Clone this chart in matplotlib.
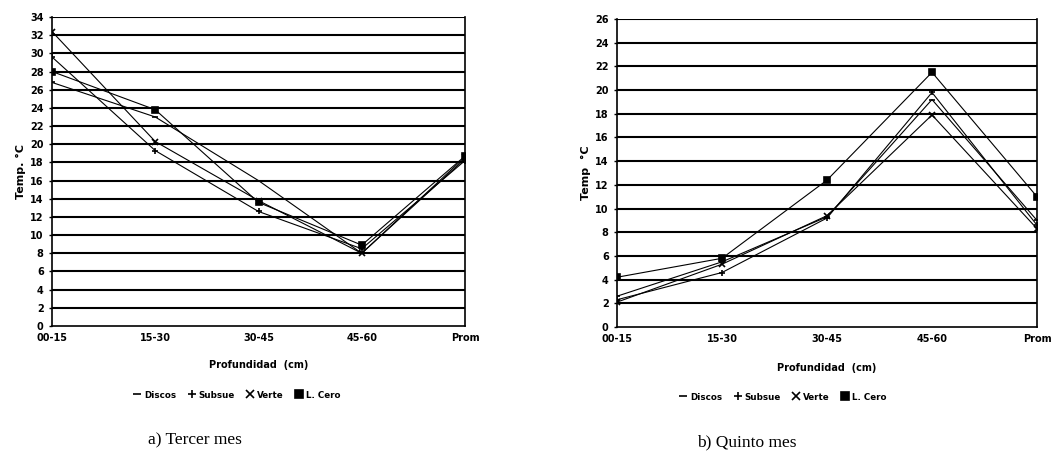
import matplotlib
matplotlib.use("Agg")
import matplotlib.pyplot as plt
import numpy as np

# Depth classes shared by both panels
depths = ["00-15", "15-30", "30-45", "45-60", "Prom"]

# Third month soil temperature (°C)
m3_discos = [26.8, 23.0, 16.0, 8.0, 18.4]
m3_subsue = [29.6, 19.3, 12.6, 8.5, 18.2]
m3_verte = [32.4, 20.3, 13.8, 8.0, 18.6]
m3_lcero = [28.0, 23.8, 13.6, 8.9, 18.7]

# Fifth month soil temperature (°C)
m5_discos = [2.6, 5.5, 9.3, 19.2, 9.0]
m5_subsue = [2.3, 4.6, 9.2, 19.8, 8.6]
m5_verte = [2.1, 5.3, 9.4, 17.9, 8.3]
m5_lcero = [4.2, 5.8, 12.4, 21.5, 11.0]

series_names = ["Discos", "Subsue", "Verte", "L. Cero"]
markers = ["_", "+", "x", "s"]

W, H = 1057, 475
fig = plt.figure(figsize=(W / 100, H / 100), dpi=100)
fig.patch.set_facecolor("white")


def axes_px(x0, y0, x1, y1):
    return fig.add_axes([x0 / W, 1 - y1 / H, (x1 - x0) / W, (y1 - y0) / H])


def panel(ax, data, ymax, ylabel, caption, leg_xy, cap_xy, xlab_pad):
    x = np.arange(len(depths))
    for vals, name, mk in zip(data, series_names, markers):
        ax.plot(x, vals, color="black", lw=0.8, marker=mk, ms=4,
                mew=1.2, mfc="black", mec="black", label=name, zorder=3)
    ax.set_xlim(0, len(depths) - 1)
    ax.set_ylim(0, ymax)
    ax.set_yticks(np.arange(0, ymax + 1, 2))
    ax.set_xticks(x)
    ax.set_xticklabels(depths)
    for yv in np.arange(2, ymax + 1, 2):
        ax.axhline(yv, color="black", lw=1.5, zorder=1)
    ax.spines["top"].set_visible(False)
    for s in ["left", "right", "bottom"]:
        ax.spines[s].set_linewidth(1.2)
    ax.tick_params(axis="y", length=2, width=1, pad=4, labelsize=7)
    ax.tick_params(axis="x", length=0, pad=5, labelsize=7)
    for lab in ax.get_xticklabels() + ax.get_yticklabels():
        lab.set_fontweight("bold")
    ax.set_ylabel(ylabel, fontsize=8, fontweight="bold", labelpad=3)
    ax.set_xlabel("Profundidad  (cm)", fontsize=7, fontweight="bold",
                  labelpad=xlab_pad)
    leg = fig.legend(*ax.get_legend_handles_labels(), loc="center",
                     bbox_to_anchor=(leg_xy[0] / W, 1 - leg_xy[1] / H),
                     ncol=4, frameon=False, handlelength=0.9,
                     handletextpad=0.35, columnspacing=1.3, markerscale=1.5,
                     prop={"weight": "bold", "size": 6.3})
    for line in leg.get_lines():
        line.set_linestyle("none")
    fig.text(cap_xy[0] / W, 1 - cap_xy[1] / H, caption, ha="center",
             va="center", fontsize=12.5, family="Liberation Serif")


ax1 = axes_px(52, 17, 465, 326)
panel(ax1, [m3_discos, m3_subsue, m3_verte, m3_lcero], 34, "Temp. °C",
      "a) Tercer mes", (237, 395), (195, 440), 12)

ax2 = axes_px(617, 19, 1037, 327)
panel(ax2, [m5_discos, m5_subsue, m5_verte, m5_lcero], 26, "Temp  °C",
      "b) Quinto mes", (783, 397), (747, 442), 14)

fig.savefig("out.png", dpi=100, facecolor="white")
